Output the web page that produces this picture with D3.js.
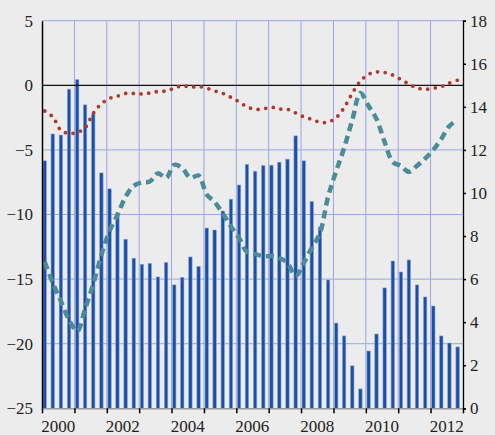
<!DOCTYPE html>
<html>
<head>
<meta charset="utf-8">
<script src="https://cdn.jsdelivr.net/npm/d3@7"></script>
<style>
  html, body { margin: 0; padding: 0; background: #ececec; }
  svg { display: block; }
  .tick text { font-family: "Liberation Serif", "Times New Roman", serif; }
</style>
</head>
<body>
<div id="chart"></div>
<script>
// Chart dimensions
const width = 495;
const height = 435;
const margin = {top: 20.7, right: 32, bottom: 26.7, left: 42};

// Quarterly categories, 2000Q1 .. 2012Q4
const quarters = [];
for (let y = 2000; y <= 2012; y++) {
  for (let q = 1; q <= 4; q++) quarters.push(y + "Q" + q);
}

// Bars (right axis)
const barValues = [
  11.49, 12.74, 12.69, 14.82, 15.26, 14.09, 13.67, 10.93,
  10.19, 9.07, 7.85, 6.97, 6.69, 6.73, 6.10, 6.77,
  5.73, 6.08, 7.03, 6.59, 8.37, 8.28, 9.16, 9.71,
  10.37, 11.33, 11.01, 11.27, 11.29, 11.43, 11.57, 12.65,
  11.49, 9.60, 8.42, 5.96, 3.96, 3.36, 1.97, 0.90,
  2.66, 3.45, 5.59, 6.84, 6.33, 6.89, 5.73, 5.17,
  4.75, 3.36, 3.03, 2.85
];

// Red dotted line (left axis)
const dottedValues = [
  -1.99, -2.44, -3.48, -3.72, -3.64, -3.29, -2.17, -1.43,
  -1.01, -0.84, -0.63, -0.63, -0.67, -0.60, -0.48, -0.44,
  -0.23, -0.03, -0.14, -0.09, -0.22, -0.43, -0.62, -0.93,
  -1.28, -1.66, -1.86, -1.82, -1.70, -1.83, -1.86, -2.14,
  -2.44, -2.63, -2.86, -2.85, -2.50, -1.73, -0.62, 0.33,
  0.85, 1.04, 0.99, 0.79, 0.45, 0.09, -0.20, -0.31,
  -0.23, -0.10, 0.17, 0.39
];

// Teal dashed line (right axis)
const dashedValues = [
  6.80, 5.82, 4.98, 4.10, 3.59, 4.61, 5.77, 7.12,
  8.24, 8.98, 9.82, 10.33, 10.49, 10.53, 10.91, 10.70,
  11.30, 11.16, 10.70, 10.81, 9.93, 9.58, 9.05, 8.44,
  7.91, 7.26, 7.16, 7.06, 7.07, 6.98, 6.75, 6.14,
  6.75, 7.45, 8.14, 9.82, 11.02, 12.09, 13.39, 14.64,
  14.04, 13.44, 12.37, 11.44, 11.26, 10.98, 11.26, 11.60,
  12.00, 12.51, 13.11, 13.39
];

// Axis ticks
const leftTicks = [5, 0, -5, -10, -15, -20, -25];
const rightTicks = [0, 2, 4, 6, 8, 10, 12, 14, 16, 18];
const yearLabels = [2000, 2002, 2004, 2006, 2008, 2010, 2012];

// Quarter label -> date in the middle month of the quarter
function quarterDate(label) {
  const yr = +label.slice(0, 4);
  const q = +label.slice(5);
  return new Date(yr, (q - 1) * 3 + 1, 1);
}

const svg = d3.select("#chart").append("svg")
  .attr("width", width)
  .attr("height", height);

const x = d3.scaleTime()
  .domain([new Date(2000, 0, 1), new Date(2013, 0, 1)])
  .range([margin.left, width - margin.right]);

const yLeft = d3.scaleLinear()
  .domain([-25, 5])
  .range([height - margin.bottom, margin.top]);

const yRight = d3.scaleLinear()
  .domain([0, 18])
  .range([height - margin.bottom, margin.top]);

const plotLeft = margin.left;
const plotRight = width - margin.right;
const plotBottom = height - margin.bottom;

// Gridlines
const gridColor = "#9ba6e4";
svg.append("g")
  .selectAll("line")
  .data(leftTicks.filter(d => d !== 0 && d !== -25))
  .join("line")
  .attr("x1", plotLeft)
  .attr("x2", plotRight)
  .attr("y1", d => yLeft(d))
  .attr("y2", d => yLeft(d))
  .attr("stroke", gridColor)
  .attr("stroke-width", 1);

const yearBounds = d3.range(2001, 2013).map(y => new Date(y, 0, 1));
svg.append("g")
  .selectAll("line")
  .data(yearBounds)
  .join("line")
  .attr("x1", d => x(d))
  .attr("x2", d => x(d))
  .attr("y1", margin.top)
  .attr("y2", plotBottom)
  .attr("stroke", gridColor)
  .attr("stroke-width", 1);

// Bars
const barWidth = 3.4;
svg.append("g")
  .selectAll("rect")
  .data(quarters)
  .join("rect")
  .attr("x", (d, i) => x(quarterDate(d)) - barWidth / 2)
  .attr("width", barWidth)
  .attr("y", (d, i) => yRight(barValues[i]))
  .attr("height", (d, i) => yRight(0) - yRight(barValues[i]))
  .attr("fill", "#1c4fa6")
  .attr("stroke", "#88a3d8")
  .attr("stroke-width", 0.6);

// Zero line
svg.append("line")
  .attr("x1", plotLeft)
  .attr("x2", plotRight)
  .attr("y1", yLeft(0))
  .attr("y2", yLeft(0))
  .attr("stroke", "#111")
  .attr("stroke-width", 1.3);

// Teal dashed line
const dashedLine = d3.line()
  .x((d, i) => x(quarterDate(quarters[i])))
  .y(d => yRight(d))
  .curve(d3.curveCatmullRom);

svg.append("path")
  .datum(dashedValues)
  .attr("d", dashedLine)
  .attr("fill", "none")
  .attr("stroke", "#4c8b99")
  .attr("stroke-width", 4.5)
  .attr("stroke-dasharray", "8 5");

// Red dotted line
const dottedLine = d3.line()
  .x((d, i) => x(quarterDate(quarters[i])))
  .y(d => yLeft(d))
  .curve(d3.curveCatmullRom);

svg.append("path")
  .datum(dottedValues)
  .attr("d", dottedLine)
  .attr("fill", "none")
  .attr("stroke", "#b0392d")
  .attr("stroke-width", 3.8)
  .attr("stroke-linecap", "round")
  .attr("stroke-dasharray", "0 7.7");

// Left axis
const leftAxis = svg.append("g")
  .attr("transform", `translate(${plotLeft},0)`)
  .call(d3.axisLeft(yLeft).tickValues(leftTicks).tickSize(0).tickPadding(9).tickFormat(d3.format("d")));
leftAxis.select(".domain").attr("stroke", "#000").attr("stroke-width", 1.5);
leftAxis.selectAll("text").attr("font-size", 17).attr("fill", "#222");

// Right axis
const rightAxis = svg.append("g")
  .attr("transform", `translate(${plotRight},0)`)
  .call(d3.axisRight(yRight).tickValues(rightTicks).tickSize(3).tickPadding(4));
rightAxis.select(".domain").attr("stroke", "#000").attr("stroke-width", 1.3);
rightAxis.selectAll(".tick line").attr("stroke", "#000").attr("stroke-width", 1.5);
rightAxis.selectAll("text").attr("font-size", 17).attr("fill", "#222");

// Bottom axis: ticks at year boundaries, labels mid-year
svg.append("line")
  .attr("x1", plotLeft)
  .attr("x2", plotRight)
  .attr("y1", plotBottom + 0.5)
  .attr("y2", plotBottom + 0.5)
  .attr("stroke", "#999")
  .attr("stroke-width", 1.5);

const bottomTicks = svg.append("g")
  .attr("transform", `translate(0,${plotBottom})`)
  .call(d3.axisBottom(x)
    .tickValues(d3.range(2000, 2014).map(y => new Date(y, 0, 1)))
    .tickSize(5)
    .tickFormat(""));
bottomTicks.select(".domain").remove();
bottomTicks.selectAll(".tick line").attr("stroke", "#000").attr("stroke-width", 1.5);

svg.append("g")
  .selectAll("text")
  .data(yearLabels)
  .join("text")
  .attr("x", d => x(new Date(d, 6, 1)))
  .attr("y", plotBottom + 24)
  .attr("text-anchor", "middle")
  .attr("font-family", "'Liberation Serif', 'Times New Roman', serif")
  .attr("font-size", 17)
  .attr("fill", "#222")
  .text(d => d);
</script>
</body>
</html>
